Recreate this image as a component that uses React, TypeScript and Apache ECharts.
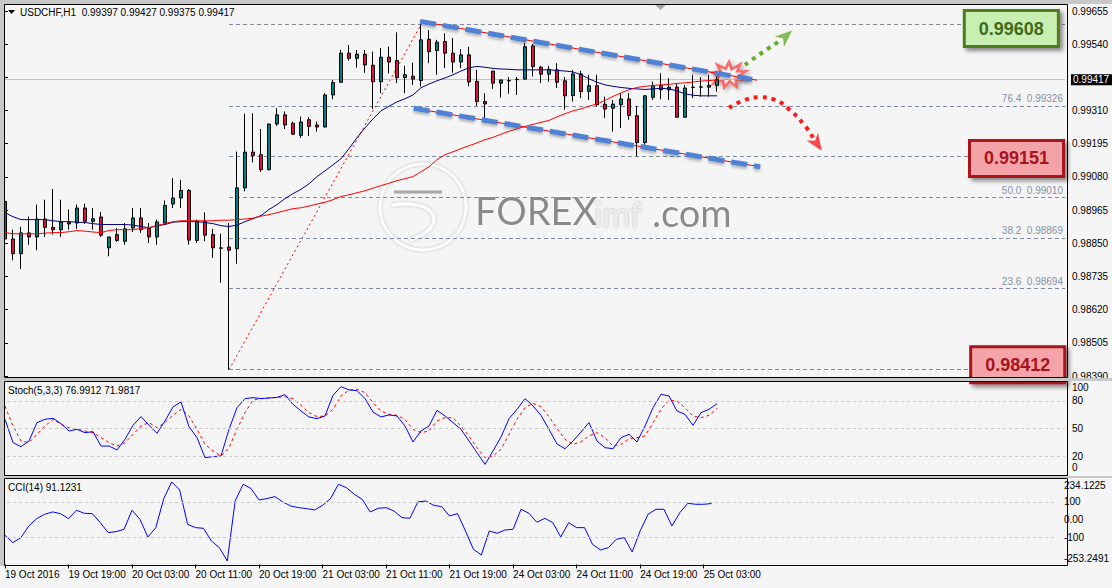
import React, { useEffect, useRef } from 'react';
import * as echarts from 'echarts';

// ---------- data ----------
const xTickLabels = ['19 Oct 2016', '19 Oct 19:00', '20 Oct 03:00', '20 Oct 11:00', '20 Oct 19:00', '21 Oct 03:00', '21 Oct 11:00', '21 Oct 19:00', '24 Oct 03:00', '24 Oct 11:00', '24 Oct 19:00', '25 Oct 03:00'];
const slotCount = 133; // 90 bars + right shift space

// [open, high, low, close]
const ohlc: number[][] = [
  [0.98995, 0.99018, 0.98811, 0.98865], [0.98865, 0.98897, 0.98791, 0.98814], [0.98814, 0.98907, 0.98761, 0.98886], [0.98886, 0.98943, 0.98845, 0.98872],
  [0.98872, 0.98984, 0.98826, 0.98934], [0.98934, 0.99001, 0.98872, 0.98905], [0.98905, 0.99038, 0.98880, 0.98897], [0.98897, 0.99001, 0.98872, 0.98924],
  [0.98924, 0.98967, 0.98897, 0.98917], [0.98920, 0.98984, 0.98900, 0.98972], [0.98972, 0.98987, 0.98917, 0.98926], [0.98926, 0.98972, 0.98897, 0.98935],
  [0.98941, 0.98959, 0.98872, 0.98878], [0.98834, 0.98872, 0.98805, 0.98872], [0.98880, 0.98903, 0.98855, 0.98860], [0.98857, 0.98920, 0.98845, 0.98900],
  [0.98903, 0.98972, 0.98889, 0.98938], [0.98938, 0.98972, 0.98886, 0.98897], [0.98902, 0.98920, 0.98851, 0.98872], [0.98872, 0.98932, 0.98845, 0.98924],
  [0.98920, 0.98998, 0.98915, 0.98981], [0.98986, 0.99076, 0.98972, 0.99007], [0.99007, 0.99070, 0.98972, 0.99033], [0.99033, 0.99038, 0.98845, 0.98861],
  [0.98860, 0.98932, 0.98851, 0.98926], [0.98926, 0.98957, 0.98857, 0.98878], [0.98880, 0.98900, 0.98799, 0.98834], [0.98834, 0.98883, 0.98713, 0.98833],
  [0.98837, 0.98920, 0.98412, 0.98826], [0.98831, 0.99168, 0.98779, 0.99042], [0.99042, 0.99299, 0.99030, 0.99166], [0.99166, 0.99301, 0.99130, 0.99154],
  [0.99157, 0.99246, 0.99097, 0.99105], [0.99105, 0.99266, 0.99103, 0.99263], [0.99263, 0.99318, 0.99257, 0.99295], [0.99295, 0.99307, 0.99246, 0.99260],
  [0.99266, 0.99272, 0.99225, 0.99228], [0.99224, 0.99289, 0.99215, 0.99270], [0.99278, 0.99287, 0.99222, 0.99255], [0.99260, 0.99272, 0.99237, 0.99253],
  [0.99253, 0.99370, 0.99251, 0.99364], [0.99364, 0.99416, 0.99349, 0.99407], [0.99408, 0.99520, 0.99407, 0.99509], [0.99509, 0.99537, 0.99483, 0.99491],
  [0.99491, 0.99520, 0.99459, 0.99505], [0.99505, 0.99520, 0.99441, 0.99468], [0.99467, 0.99514, 0.99315, 0.99410], [0.99410, 0.99526, 0.99370, 0.99495],
  [0.99495, 0.99532, 0.99439, 0.99478], [0.99483, 0.99581, 0.99405, 0.99424], [0.99424, 0.99465, 0.99370, 0.99434], [0.99429, 0.99476, 0.99399, 0.99419],
  [0.99414, 0.99608, 0.99393, 0.99555], [0.99557, 0.99589, 0.99474, 0.99514], [0.99518, 0.99555, 0.99434, 0.99547], [0.99549, 0.99578, 0.99457, 0.99509],
  [0.99509, 0.99561, 0.99441, 0.99478], [0.99478, 0.99523, 0.99457, 0.99503], [0.99503, 0.99531, 0.99394, 0.99409], [0.99411, 0.99451, 0.99326, 0.99341],
  [0.99341, 0.99370, 0.99284, 0.99333], [0.99447, 0.99447, 0.99385, 0.99405], [0.99405, 0.99416, 0.99355, 0.99416], [0.99414, 0.99426, 0.99368, 0.99413],
  [0.99417, 0.99426, 0.99364, 0.99418], [0.99419, 0.99545, 0.99416, 0.99531], [0.99534, 0.99541, 0.99428, 0.99462], [0.99460, 0.99465, 0.99405, 0.99436],
  [0.99436, 0.99465, 0.99410, 0.99453], [0.99451, 0.99474, 0.99388, 0.99408], [0.99413, 0.99426, 0.99313, 0.99361], [0.99362, 0.99451, 0.99341, 0.99437],
  [0.99437, 0.99448, 0.99353, 0.99376], [0.99376, 0.99434, 0.99347, 0.99396], [0.99396, 0.99434, 0.99324, 0.99330], [0.99332, 0.99358, 0.99284, 0.99315],
  [0.99318, 0.99347, 0.99237, 0.99332], [0.99330, 0.99370, 0.99249, 0.99350], [0.99350, 0.99370, 0.99278, 0.99293], [0.99292, 0.99326, 0.99151, 0.99199],
  [0.99199, 0.99364, 0.99191, 0.99361], [0.99356, 0.99410, 0.99347, 0.99396], [0.99396, 0.99439, 0.99349, 0.99382], [0.99382, 0.99422, 0.99347, 0.99391],
  [0.99391, 0.99405, 0.99285, 0.99287], [0.99287, 0.99399, 0.99285, 0.99388], [0.99391, 0.99434, 0.99353, 0.99390], [0.99391, 0.99426, 0.99358, 0.99392],
  [0.99391, 0.99434, 0.99358, 0.99397], [0.99397, 0.99427, 0.99375, 0.99417],
];

const maFast = [
  0.98956, 0.98942, 0.98932, 0.98932, 0.98932, 0.98932, 0.98928, 0.98925, 0.98925, 0.98923,
  0.98922, 0.98918, 0.98915, 0.98915, 0.98915, 0.98915, 0.98913, 0.98908, 0.98904, 0.98911,
  0.98915, 0.98923, 0.98925, 0.98925, 0.98925, 0.98922, 0.98918, 0.98911, 0.98908, 0.98913,
  0.98925, 0.98935, 0.98946, 0.98967, 0.98984, 0.99005, 0.99022, 0.99037, 0.99056, 0.99081,
  0.99101, 0.99122, 0.99143, 0.99178, 0.99216, 0.99250, 0.99281, 0.99309, 0.99325, 0.99340,
  0.99351, 0.99364, 0.99389, 0.99402, 0.99413, 0.99423, 0.99434, 0.99447, 0.99458, 0.99463,
  0.99460, 0.99456, 0.99454, 0.99453, 0.99451, 0.99451, 0.99451, 0.99451, 0.99451, 0.99449,
  0.99447, 0.99444, 0.99434, 0.99420, 0.99408, 0.99399, 0.99394, 0.99390, 0.99387, 0.99385,
  0.99383, 0.99385, 0.99387, 0.99385, 0.99378, 0.99368, 0.99363, 0.99361, 0.99361, 0.99361,
];
const maSlow = [
  0.98887, 0.98883, 0.98883, 0.98883, 0.98883, 0.98885, 0.98887, 0.98887, 0.98890, 0.98894,
  0.98892, 0.98889, 0.98887, 0.98894, 0.98897, 0.98897, 0.98897, 0.98901, 0.98904, 0.98911,
  0.98918, 0.98925, 0.98928, 0.98928, 0.98928, 0.98928, 0.98928, 0.98930, 0.98930, 0.98932,
  0.98934, 0.98937, 0.98944, 0.98949, 0.98956, 0.98963, 0.98970, 0.98973, 0.98979, 0.98986,
  0.98992, 0.99001, 0.99012, 0.99018, 0.99025, 0.99032, 0.99041, 0.99050, 0.99058, 0.99067,
  0.99074, 0.99081, 0.99098, 0.99115, 0.99140, 0.99157, 0.99167, 0.99178, 0.99188, 0.99198,
  0.99209, 0.99217, 0.99228, 0.99238, 0.99247, 0.99255, 0.99262, 0.99269, 0.99276, 0.99288,
  0.99299, 0.99309, 0.99316, 0.99325, 0.99333, 0.99345, 0.99359, 0.99371, 0.99382, 0.99390,
  0.99394, 0.99397, 0.99399, 0.99401, 0.99404, 0.99406, 0.99409, 0.99412, 0.99414, 0.99416,
];

const stochK = [
  60.1, 34.8, 30.4, 36.6, 56.5, 60.1, 61.2, 55.4, 47.4, 49.2,
  45.6, 46.7, 31.1, 31.1, 26.8, 38.4, 53.6, 63.0, 53.6, 44.9,
  58.3, 73.5, 78.9, 52.1, 40.2, 18.5, 19.6, 20.3, 49.2, 72.7,
  82.5, 83.6, 82.5, 83.2, 83.9, 86.8, 76.3, 69.1, 62.6, 60.8,
  63.7, 86.1, 95.5, 91.9, 91.2, 82.5, 68.0, 62.6, 64.8, 63.7,
  52.8, 35.5, 47.4, 52.8, 69.8, 63.7, 56.5, 49.2, 36.6, 23.9,
  11.2, 25.7, 40.9, 60.8, 70.9, 82.5, 74.5, 64.4, 49.2, 33.3,
  28.2, 36.5, 46.3, 56.5, 36.5, 29.3, 28.2, 40.2, 43.8, 35.5,
  52.8, 72.7, 87.2, 85.4, 69.1, 65.5, 53.5, 67.3, 70.9, 77.0,
];
const stochD = [
  74.5, 52.8, 36.6, 34.8, 43.8, 52.8, 60.0, 54.7, 51.0, 49.2,
  47.4, 45.6, 40.2, 34.8, 31.1, 34.8, 43.8, 52.8, 56.5, 51.0,
  56.5, 64.4, 70.9, 63.7, 49.2, 32.9, 25.7, 20.3, 29.3, 49.2,
  67.3, 81.0, 82.5, 83.2, 83.6, 84.7, 82.5, 75.2, 67.3, 63.0,
  63.7, 70.9, 85.4, 91.9, 92.6, 89.0, 78.1, 69.1, 65.5, 64.4,
  60.0, 49.2, 45.6, 47.4, 58.3, 61.8, 61.8, 52.8, 41.9, 29.3,
  18.5, 20.3, 27.5, 43.8, 60.0, 72.7, 77.4, 73.8, 63.0, 49.9,
  38.4, 33.0, 35.5, 42.0, 45.6, 40.2, 31.1, 32.9, 39.1, 40.2,
  42.0, 56.4, 70.9, 81.0, 80.0, 72.7, 63.7, 61.8, 64.4, 72.0,
];
const stochLevels = [20, 50, 80];
const stochTicks = [0, 20, 50, 80, 100];

const cci = [
  -88.5, -130, -101.7, -35.7, 5.8, 30.4, 43.6, 34.2, 5.8, 53.0,
  36.0, 34.2, -16.8, -73.4, -67.7, -54.5, 53.0, 2.1, -97.9, -45.1,
  119.1, 213.4, 168.1, -26.2, -45.1, -48.9, -120.6, -158.3, -233.8, 106.8,
  200.2, 175.7, 111.5, 119.1, 130.4, 100.2, 77.5, 68.1, 62.5, 54.9,
  81.3, 119.1, 200.2, 181.3, 143.6, 115.3, 43.6, 64.3, 68.1, 49.2,
  11.5, 7.7, 100.2, 105.8, 81.3, 73.8, 20.9, 34.2, -64.0, -167.7,
  -199.8, -64.0, -77.2, -58.3, -54.5, 58.7, 36.0, -14.9, 7.7, -16.8,
  -97.9, -16.8, -45.1, -45.1, -139.4, -171.5, -158.3, -111.1, -101.7, -182.8,
  -64.0, 30.4, 58.7, 58.7, -35.7, 39.8, 92.6, 87.0, 87.0, 91.1,
];
const cciLevels = [100, -100];
const cciMin = -253.2491;
const cciMax = 234.1225;

const priceMin = 0.9839;
const priceMax = 0.99655;
const priceStep = 0.00115;
const lastPrice = 0.99417;

// Fibonacci retracement (anchored on bar 28 low -> bar 52 high)
const fibAnchor = [[28, 0.98412], [52, 0.99608]];
const fibPercents = ['0.0', '23.6', '38.2', '50.0', '61.8', '76.4', '100.0'];
const fibPrices = [0.98412, 0.98694, 0.98869, 0.99010, 0.99151, 0.99326, 0.99608];
const fibLabelVisible = [false, true, true, true, false, true, false]; // others are under the boxes

// key levels [startBar, endBar, price]
const resistanceLevel = [52, 120.1, 0.99608];
const supportLevel1 = [79.4, 120.75, 0.99151];
const supportLevel2 = [27.8, 120.9, 0.98412];

// channel lines
const channelUpper = [[51.9, 0.99619], [93.4, 0.99418]];
const channelUpperThin = [[51.9, 0.99619], [94.0, 0.99415]];
const channelLower = [[51.1, 0.99318], [94.4, 0.99115]];

// scenario arrows
const bullPath = [[92.5, 0.99468], [94.7, 0.99512], [96.9, 0.99552]];
const bullHead = [97.6, 0.99568];
const bearPath = [[90.5, 0.99319], [92.5, 0.99347], [94.4, 0.99356], [96.25, 0.99347], [98.1, 0.99312], [100, 0.99257], [101, 0.99216]];
const bearHead = [101.5, 0.99195];
const burstPoint = [90.5, 0.99434];

// ---------- helpers ----------
const FONT = '"Liberation Sans", Arial, sans-serif';
const categories = Array.from({ length: slotCount }, (_, i) => String(i));
const isTick = (i: number) => i % 8 === 0 && i / 8 < xTickLabels.length;

const STAR = 'path://M50,0 L58,28 L82,8 L74,36 L100,34 L80,52 L98,70 L70,66 L72,96 L52,74 L36,98 L32,70 L4,84 L20,56 L0,40 L26,36 L16,10 L40,26 Z';
const ARROW = 'path://M10,0 L20,24 L10,17 L0,24 Z';

function levelSeries(level: number[], stroke: string, fill: string, text: string, dy: number) {
  return {
    type: 'line', xAxisIndex: 1, yAxisIndex: 0, data: [], z: 10, silent: true,
    markLine: {
      silent: true, symbol: ['none', 'none'], animation: false,
      lineStyle: { color: stroke, width: 3, type: 'solid', shadowColor: 'rgba(0,0,0,0.35)', shadowBlur: 3, shadowOffsetY: 2 },
      label: {
        show: true, position: 'end', distance: 0, offset: [0, dy], formatter: level[2].toFixed(5),
        fontFamily: 'Arial, "Liberation Sans", sans-serif', fontWeight: 'bold', fontSize: 18, color: text,
        backgroundColor: fill, borderColor: stroke, borderWidth: 3, padding: [8, 13, 7, 13],
        shadowColor: 'rgba(0,0,0,0.45)', shadowBlur: 4, shadowOffsetX: 3, shadowOffsetY: 3,
      },
      data: [[{ coord: [level[0], level[2]] }, { coord: [level[1], level[2]] }]],
    },
  };
}

export default function App() {
  const ref = useRef<HTMLDivElement>(null);
  useEffect(() => {
    const chart = echarts.init(ref.current!, null, { renderer: 'svg' });
    const option: any = {
      animation: false,
      backgroundColor: '#f5f5f5',
      grid: [
        { left: 1, width: 1064, top: 11, height: 365 },
        { left: 1, width: 1064, top: 382.5, height: 92.2 },
        { left: 1, width: 1064, top: 478.3, height: 86.1 },
      ],
      xAxis: [
        { type: 'category', gridIndex: 0, data: categories, boundaryGap: true, show: false },
        { type: 'value', gridIndex: 0, min: -0.5, max: slotCount - 0.5, show: false },
        { type: 'category', gridIndex: 1, data: categories, boundaryGap: true, show: false },
        {
          type: 'category', gridIndex: 2, data: categories, boundaryGap: true, position: 'bottom',
          axisLine: { show: false, onZero: false },
          axisTick: { show: true, alignWithLabel: true, length: 4, interval: (i: number) => isTick(i), lineStyle: { color: '#000' } },
          axisLabel: {
            interval: (i: number) => isTick(i), formatter: (_v: string, i: number) => (isTick(i) ? xTickLabels[i / 8] : ''),
            align: 'left', margin: 5, fontSize: 10, color: '#000', fontFamily: FONT, hideOverlap: false,
          },
          splitLine: { show: false },
        },
      ],
      yAxis: [
        {
          type: 'value', gridIndex: 0, position: 'right', offset: 2, min: priceMin, max: priceMax, interval: priceStep,
          axisLine: { show: false }, splitLine: { show: false },
          axisTick: { show: true, length: 3, lineStyle: { color: '#000' } },
          axisLabel: {
            margin: 5, fontSize: 10, color: '#000', fontFamily: FONT,
            // the tick right next to the bid price is covered by the bid label
            formatter: (v: number) => (Math.abs(v - lastPrice) < priceStep / 4 ? '' : v.toFixed(5)),
          },
        },
        {
          type: 'value', gridIndex: 1, position: 'right', offset: 2, min: 0, max: 100, interval: 10,
          axisLine: { show: false }, splitLine: { show: false }, axisTick: { show: false },
          axisLabel: {
            margin: 5, fontSize: 10, color: '#000', fontFamily: FONT,
            formatter: (v: number) => {
              if (v === 100) return '{t|100}';
              if (v === 0) return '{b|0}';
              return stochTicks.includes(v) ? String(v) : '';
            },
            rich: {
              t: { padding: [10, 0, 0, 0], fontSize: 10, color: '#000', fontFamily: FONT },
              b: { padding: [0, 0, 14, 0], fontSize: 10, color: '#000', fontFamily: FONT },
            },
          },
        },
        {
          type: 'value', gridIndex: 2, position: 'right', offset: 2, min: cciMin, max: cciMax,
          axisLine: { show: false }, splitLine: { show: false }, axisTick: { show: false },
          axisLabel: {
            margin: 5, fontSize: 10, color: '#000', fontFamily: FONT,
            customValues: [cciMin, -100, 0, 100, cciMax],
            formatter: (v: number) => {
              if (Math.abs(v - cciMax) < 1e-6) return '{t|' + cciMax.toFixed(4) + '}';
              if (Math.abs(v - cciMin) < 1e-6) return '{b|' + cciMin.toFixed(4) + '}';
              if (Math.abs(v) < 1e-9) return '0.00';
              return String(Math.round(v));
            },
            rich: {
              t: { padding: [14, 0, 0, 0], fontSize: 10, color: '#000', fontFamily: FONT },
              b: { padding: [0, 0, 12, 0], fontSize: 10, color: '#000', fontFamily: FONT },
            },
          },
        },
      ],
      series: [
        // bid line
        {
          type: 'line', xAxisIndex: 1, yAxisIndex: 0, data: [], z: 1, silent: true,
          markLine: {
            silent: true, symbol: ['none', 'none'],
            lineStyle: { color: '#c0c0c0', width: 1, type: 'solid' },
            label: {
              show: true, position: 'end', distance: 6, formatter: lastPrice.toFixed(5),
              backgroundColor: '#000', color: '#fff', fontSize: 10, fontFamily: FONT, padding: [1, 3, 0, 2],
            },
            data: [[{ coord: [-0.5, lastPrice] }, { coord: [slotCount - 0.5, lastPrice] }]],
          },
        },
        // fib retracement
        {
          type: 'line', xAxisIndex: 1, yAxisIndex: 0, data: fibAnchor, symbol: 'none', z: 2, silent: true,
          lineStyle: { color: '#ff0000', width: 1, type: [2, 3] },
          markLine: {
            silent: true, symbol: ['none', 'none'],
            lineStyle: { color: '#7d8ba0', width: 1, type: [4, 3] },
            label: { show: true, position: 'insideEndTop', distance: 2, color: '#8592a6', fontSize: 10, fontFamily: FONT },
            data: fibPrices.map((p, i) => [
              { coord: [fibAnchor[0][0], p], label: { show: fibLabelVisible[i], formatter: fibPercents[i] + '  ' + p.toFixed(5) } },
              { coord: [slotCount - 0.5, p] },
            ]),
          },
        },
        // starburst
        {
          type: 'scatter', xAxisIndex: 1, yAxisIndex: 0, data: [burstPoint], symbol: STAR, symbolSize: [34, 25], z: 3, silent: true,
          itemStyle: { color: '#ffffff', borderColor: '#ff4a4a', borderWidth: 2.5, shadowColor: 'rgba(0,0,0,0.35)', shadowBlur: 4, shadowOffsetX: 2, shadowOffsetY: 2 },
        },
        // candles
        {
          type: 'candlestick', xAxisIndex: 0, yAxisIndex: 0, barWidth: 4, z: 5,
          data: ohlc.map(([o, h, l, c]) => [o, c, l, h]),
          itemStyle: { color: '#008080', color0: '#dc143c', borderColor: '#000', borderColor0: '#000', borderColorDoji: '#000', borderWidth: 1 },
        },
        // moving averages
        { type: 'line', xAxisIndex: 0, yAxisIndex: 0, data: maFast, symbol: 'none', z: 6, lineStyle: { color: '#000080', width: 1 } },
        { type: 'line', xAxisIndex: 0, yAxisIndex: 0, data: maSlow, symbol: 'none', z: 6, lineStyle: { color: '#ff0000', width: 1 } },
        // channel
        { type: 'line', xAxisIndex: 1, yAxisIndex: 0, data: channelUpperThin, symbol: 'none', z: 7, lineStyle: { color: '#ff0000', width: 1 } },
        { type: 'line', xAxisIndex: 1, yAxisIndex: 0, data: channelLower, symbol: 'none', z: 7, lineStyle: { color: '#ff0000', width: 1 } },
        {
          type: 'line', xAxisIndex: 1, yAxisIndex: 0, data: channelUpper, symbol: 'none', z: 7,
          lineStyle: { color: '#5082d4', width: 5, type: [16, 7], cap: 'butt', shadowColor: 'rgba(0,0,0,0.3)', shadowBlur: 3, shadowOffsetY: 2 },
        },
        {
          type: 'line', xAxisIndex: 1, yAxisIndex: 0, data: channelLower, symbol: 'none', z: 7,
          lineStyle: { color: '#5082d4', width: 5, type: [16, 7], cap: 'butt', shadowColor: 'rgba(0,0,0,0.3)', shadowBlur: 3, shadowOffsetY: 2 },
        },
        // scenario arrows
        { type: 'line', xAxisIndex: 1, yAxisIndex: 0, data: bullPath, smooth: true, symbol: 'none', z: 8, lineStyle: { color: '#6aab2c', width: 4, type: [4, 5] } },
        { type: 'scatter', xAxisIndex: 1, yAxisIndex: 0, data: [bullHead], symbol: ARROW, symbolSize: [14, 17], symbolRotate: -49, z: 8, itemStyle: { color: '#6aab2c' } },
        { type: 'line', xAxisIndex: 1, yAxisIndex: 0, data: bearPath, smooth: true, symbol: 'none', z: 8, lineStyle: { color: '#ff1a1a', width: 4, type: [4, 5] } },
        { type: 'scatter', xAxisIndex: 1, yAxisIndex: 0, data: [bearHead], symbol: ARROW, symbolSize: [14, 17], symbolRotate: -146, z: 8, itemStyle: { color: '#ff1a1a' } },
        // key levels with boxes
        levelSeries(resistanceLevel, '#4f7d1f', '#c8efb2', '#3f6a18', 4),
        levelSeries(supportLevel1, '#a8141c', '#f4a4a8', '#a8141c', 2),
        levelSeries(supportLevel2, '#a8141c', '#f4a4a8', '#a8141c', -5),
        // stochastic
        {
          type: 'line', xAxisIndex: 2, yAxisIndex: 1, data: [], z: 1, silent: true,
          markLine: { silent: true, symbol: ['none', 'none'], label: { show: false }, lineStyle: { color: '#c8c8c8', width: 1, type: [3, 3] }, data: stochLevels.map((v) => ({ yAxis: v })) },
        },
        { type: 'line', xAxisIndex: 2, yAxisIndex: 1, data: stochD, symbol: 'none', z: 3, lineStyle: { color: '#ff0000', width: 1, type: [3, 3] } },
        { type: 'line', xAxisIndex: 2, yAxisIndex: 1, data: stochK, symbol: 'none', z: 4, lineStyle: { color: '#0000ff', width: 1 } },
        // CCI
        {
          type: 'line', xAxisIndex: 3, yAxisIndex: 2, data: [], z: 1, silent: true,
          markLine: { silent: true, symbol: ['none', 'none'], label: { show: false }, lineStyle: { color: '#c8c8c8', width: 1, type: [3, 3] }, data: cciLevels.map((v) => ({ yAxis: v })) },
        },
        { type: 'line', xAxisIndex: 3, yAxisIndex: 2, data: cci, symbol: 'none', z: 4, lineStyle: { color: '#0000ff', width: 1 } },
      ],
      graphic: [
        // watermark
        { type: 'circle', shape: { cx: 423, cy: 207, r: 43 }, style: { fill: 'none', stroke: '#ffffff', lineWidth: 2.5, shadowColor: 'rgba(0,0,0,0.25)', shadowBlur: 3 }, z: 0, silent: true },
        { type: 'line', shape: { x1: 394, y1: 192, x2: 442, y2: 192 }, style: { stroke: '#a8a8a8', lineWidth: 3 }, z: 0, silent: true },
        { type: 'bezierCurve', shape: { x1: 392, y1: 205, cpx1: 440, cpy1: 198, cpx2: 448, cpy2: 228, x2: 410, y2: 240 }, style: { fill: 'none', stroke: '#ffffff', lineWidth: 3, shadowColor: 'rgba(0,0,0,0.25)', shadowBlur: 3 }, z: 0, silent: true },
        { type: 'text', x: 475, y: 210, style: { text: 'FOREX', font: '38px Lato, "Open Sans", sans-serif', fill: '#8a8a8a', verticalAlign: 'middle', textShadowColor: '#ffffff', textShadowOffsetX: -1, textShadowOffsetY: -1, textShadowBlur: 1 }, z: 0, silent: true },
        { type: 'text', x: 594, y: 213, style: { text: 'imf', font: '34px Lato, "Open Sans", sans-serif', fill: '#ececec', verticalAlign: 'middle', textShadowColor: 'rgba(0,0,0,0.3)', textShadowBlur: 2 }, z: 0, silent: true },
        { type: 'text', x: 652, y: 212, style: { text: '.com', font: '38px Lato, "Open Sans", sans-serif', fill: '#8a8a8a', verticalAlign: 'middle', textShadowColor: '#ffffff', textShadowOffsetX: -1, textShadowOffsetY: -1, textShadowBlur: 1 }, z: 0, silent: true },
        // gray separators
        { type: 'rect', shape: { x: 0, y: 0, width: 1112, height: 4 }, style: { fill: '#c8c8c8' }, z: 90, silent: true },
        { type: 'rect', shape: { x: 0, y: 0, width: 4, height: 566 }, style: { fill: '#c8c8c8' }, z: 90, silent: true },
        { type: 'rect', shape: { x: 0, y: 378, width: 1112, height: 3 }, style: { fill: '#c8c8c8' }, z: 90, silent: true },
        { type: 'rect', shape: { x: 0, y: 476, width: 1112, height: 2 }, style: { fill: '#c8c8c8' }, z: 90, silent: true },
        // pane frames
        { type: 'rect', shape: { x: 4.5, y: 4.5, width: 1063, height: 373 }, style: { fill: 'none', stroke: '#000', lineWidth: 1 }, z: 95, silent: true },
        { type: 'rect', shape: { x: 4.5, y: 381.5, width: 1063, height: 94 }, style: { fill: 'none', stroke: '#000', lineWidth: 1 }, z: 95, silent: true },
        { type: 'rect', shape: { x: 4.5, y: 478.5, width: 1063, height: 87 }, style: { fill: 'none', stroke: '#000', lineWidth: 1 }, z: 95, silent: true },
        // chart shift marker
        { type: 'polygon', shape: { points: [[655, 5], [666, 5], [660.5, 10]] }, style: { fill: '#a8a8a8' }, z: 96, silent: true },
        // pane titles
        { type: 'polygon', shape: { points: [[8, 10], [15, 10], [11.5, 14]] }, style: { fill: '#000' }, z: 96, silent: true },
        { type: 'text', x: 20, y: 12, style: { text: 'USDCHF,H1  0.99397 0.99427 0.99375 0.99417', font: '10px "Liberation Sans", Arial, sans-serif', fill: '#000', verticalAlign: 'middle' }, z: 96, silent: true },
        { type: 'text', x: 8, y: 390, style: { text: 'Stoch(5,3,3) 76.9912 71.9817', font: '10px "Liberation Sans", Arial, sans-serif', fill: '#000', verticalAlign: 'middle' }, z: 96, silent: true },
        { type: 'text', x: 8, y: 487, style: { text: 'CCI(14) 91.1231', font: '10px "Liberation Sans", Arial, sans-serif', fill: '#000', verticalAlign: 'middle' }, z: 96, silent: true },
      ],
    };
    chart.setOption(option);
    return () => chart.dispose();
  }, []);
  return (
    <div style={{ position: 'absolute', left: 0, top: 0, width: 1112, height: 588 }}>
      <div ref={ref} style={{ width: 1112, height: 588 }} />
    </div>
  );
}
